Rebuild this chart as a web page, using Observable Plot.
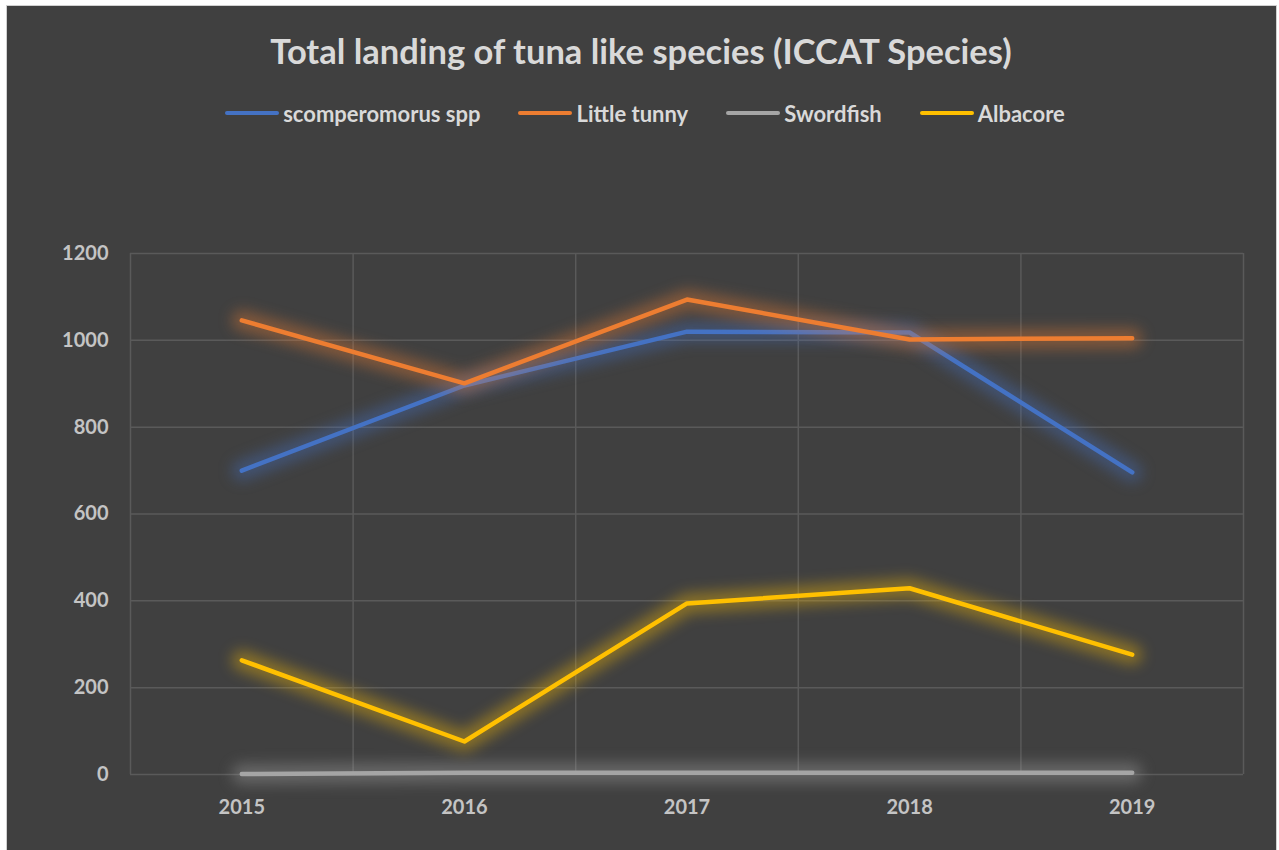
<!DOCTYPE html>
<html>
<head>
<meta charset="utf-8">
<script src="https://cdn.jsdelivr.net/npm/d3@7"></script>
<script src="https://cdn.jsdelivr.net/npm/@observablehq/plot@0.6"></script>
<style>
  html, body { margin: 0; padding: 0; background: #ffffff; }
  body { width: 1279px; height: 850px; overflow: hidden; position: relative; font-family: Lato, "Open Sans", sans-serif; }
  #frame { position: absolute; left: 6px; top: 5px; width: 1271px; height: 850px; background: #404040; border: 1px solid #d0d0d0; box-sizing: border-box; }
  #title { position: absolute; left: 0; top: 28px; width: 1282px; height: 46px; line-height: 46px; text-align: center; color: #d9d9d9; font-size: 34.5px; font-weight: bold; }
  #legend { position: absolute; left: 0; top: 100px; width: 1290px; height: 26px; display: flex; justify-content: center; align-items: center; color: #d9d9d9; font-size: 22px; font-weight: bold; }
  .item { display: flex; align-items: center; margin: 0 19px; }
  .swatch { width: 54px; height: 4px; border-radius: 2px; margin-right: 4px; }
  #chart { position: absolute; left: 0; top: 230px; }
</style>
</head>
<body>
<div id="frame"></div>
<div id="title">Total landing of tuna like species (ICCAT Species)</div>
<div id="legend"></div>
<div id="chart"></div>
<script>
const years = [2015, 2016, 2017, 2018, 2019];
const seriesNames = ["scomperomorus spp", "Little tunny", "Swordfish", "Albacore"];
const scomperomorus = [700, 896, 1020, 1018, 696];
const littleTunny = [1046, 901, 1094, 1002, 1005];
const swordfish = [1, 4, 4, 4, 4];
const albacore = [263, 76, 394, 429, 276];
const seriesColors = ["#4472C4", "#ED7D31", "#A5A5A5", "#FFC000"];
const yTicks = [0, 200, 400, 600, 800, 1000, 1200];

const seriesValues = [scomperomorus, littleTunny, swordfish, albacore];
const rows = [];
seriesValues.forEach((vals, i) => vals.forEach((v, j) => rows.push({series: seriesNames[i], year: years[j], value: v})));
const bounds = [...years.map(y => y - 0.5), years[years.length - 1] + 0.5];

// legend
const legend = document.getElementById("legend");
seriesNames.forEach((name, i) => {
  const item = document.createElement("div");
  item.className = "item";
  const sw = document.createElement("span");
  sw.className = "swatch";
  sw.style.background = seriesColors[i];
  const tx = document.createElement("span");
  tx.textContent = name;
  item.appendChild(sw); item.appendChild(tx);
  legend.appendChild(item);
});

const seriesMarks = [];
seriesNames.forEach(name => {
  const d = rows.filter(r => r.series === name);
  seriesMarks.push(Plot.line(d, {x: "year", y: "value", stroke: "series", strokeWidth: 20, strokeOpacity: 0.38, strokeLinecap: "round", strokeLinejoin: "round"}));
  seriesMarks.push(Plot.line(d, {x: "year", y: "value", stroke: "series", strokeWidth: 4.5, strokeLinecap: "round", strokeLinejoin: "round"}));
});

const chart = Plot.plot({
  width: 1279,
  height: 620,
  marginLeft: 130,
  marginRight: 36,
  marginTop: 23,
  marginBottom: 76,
  style: {background: "transparent", color: "#c4c4c4", fontFamily: "Lato, 'Open Sans', sans-serif", fontSize: "20px", fontWeight: "bold", overflow: "visible"},
  x: {domain: [2014.5, 2019.5], ticks: years, tickFormat: d => String(d), tickSize: 0, tickPadding: 25, label: null},
  y: {domain: [0, 1200], ticks: yTicks, tickFormat: d => String(d), tickSize: 0, tickPadding: 22, label: null},
  color: {domain: seriesNames, range: seriesColors},
  marks: [
    Plot.ruleY(yTicks, {stroke: "#5a5a5a", strokeWidth: 1.5}),
    Plot.ruleX(bounds, {stroke: "#5a5a5a", strokeWidth: 1.5}),
    ...seriesMarks
  ]
});
document.getElementById("chart").appendChild(chart);

// soften the halo lines into a glow
const lineGroups = chart.querySelectorAll('g[aria-label="line"]');
lineGroups.forEach((g, i) => { if (i % 2 === 0) g.style.filter = "blur(7px)"; });
</script>
</body>
</html>
